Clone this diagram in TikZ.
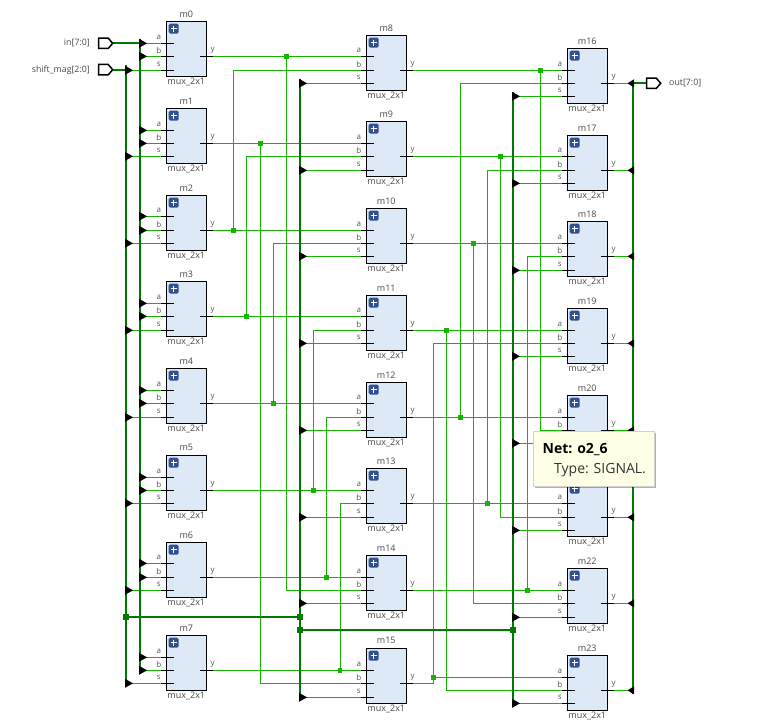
\documentclass[tikz,border=0pt]{standalone}
\usepackage{fontspec}
\setmainfont{Open Sans}
\usetikzlibrary{shadows}
\definecolor{wireg}{HTML}{14B400}
\definecolor{busg}{HTML}{007A00}
\definecolor{boxb}{HTML}{DEE9F7}
\definecolor{plusb}{HTML}{30508F}
\definecolor{pintext}{HTML}{555555}
\definecolor{tipy}{HTML}{FFFFE6}
\tikzset{
  x=1pt,y=-1pt,
  muxbox/.style={draw=black,line width=1pt,fill=boxb,minimum width=40pt,minimum height=55pt,inner sep=0pt,outer sep=0pt},
  plusicon/.style={fill=plusb,rounded corners=1.5pt,minimum size=10pt,inner sep=0pt},
  wire/.style={draw=wireg,line width=0.9pt},
  bus/.style={draw=busg,line width=2pt},
  pinline/.style={draw=black,line width=0.9pt},
  pinlab/.style={font=\fontsize{8}{9}\selectfont,text=pintext,inner sep=0pt},
  muxlab/.style={font=\fontsize{9}{10}\selectfont,text=pintext!85!black,inner sep=0pt},
  portlab/.style={font=\fontsize{8.8}{10}\selectfont,text=pintext!85!black,inner sep=0pt},
  wirejoint/.style={fill=wireg,minimum size=4.5pt,inner sep=0pt,outer sep=0pt},
  busjoint/.style={fill=busg,minimum size=6pt,inner sep=0pt,outer sep=0pt},
  portshape/.pic={\draw[black,line width=1.5pt,fill=white,line join=miter] (0,-5.2)--(9.5,-5.2)--(14,0)--(9.5,5.2)--(0,5.2)--cycle;},
  busarrowR/.pic={\fill[black] (-1,-4.5)--(7,0)--(-1,4.5)--cycle;},
  busarrowL/.pic={\fill[black] (1,-4)--(-5.5,0)--(1,4)--cycle;},
}
\begin{document}
\begin{tikzpicture}
\useasboundingbox (0,0) rectangle (770,727);
% mux bodies with pins
\foreach \n/\x/\t/\a/\b/\s/\y in {
 m0/166.3/21.3/43.3/56.3/70.3/56.3, m1/166.3/108.3/130.3/143.3/156.3/143.3,
 m2/166.3/195.3/216.3/230.3/243.3/230.3, m3/166.3/281.3/303.3/316.3/330.3/316.3,
 m4/166.3/368.3/390.3/403.3/417.3/403.3, m5/166.3/455.3/477.3/490.3/503.3/490.3,
 m6/166.3/542.3/563.3/577.3/590.3/577.3, m7/166.3/635.3/657.3/670.3/683.3/670.3,
 m8/366.3/35.3/56.3/70.3/83.3/70.3, m9/366.3/121.3/143.3/156.3/170.3/156.3,
 m10/366.3/208.3/230.3/243.3/256.3/243.3, m11/366.3/295.3/316.3/330.3/343.3/330.3,
 m12/366.3/382.3/403.3/417.3/430.3/417.3, m13/366.3/468.3/490.3/503.3/517.3/503.3,
 m14/366.3/555.3/577.3/590.3/603.3/590.3, m15/366.3/648.3/670.3/683.3/697.3/683.3,
 m16/567.3/48.3/70.3/83.3/96.3/83.3, m17/567.3/135.3/156.3/170.3/183.3/170.3,
 m18/567.3/221.3/243.3/256.3/270.3/256.3, m19/567.3/308.3/330.3/343.3/356.3/343.3,
 m20/567.3/395.3/417.3/430.3/443.3/430.3, m21/567.3/481.3/503.3/517.3/530.3/517.3,
 m22/567.3/568.3/590.3/603.3/617.3/603.3, m23/567.3/655.3/677.3/690.3/703.3/690.3}{
  \node[muxbox] (\n) at (\x+20,\t+27.5) {};
  \node[plusicon] (\n-icon) at (\x+7.4,\t+7.4) {};
  \draw[white,line width=1.1pt] (\x+4.4,\t+7.4)--(\x+10.4,\t+7.4) (\x+7.4,\t+4.4)--(\x+7.4,\t+10.4);
  \coordinate (\n-a) at (\x-5.3,\a);
  \coordinate (\n-b) at (\x-5.3,\b);
  \coordinate (\n-s) at (\x-5.3,\s);
  \coordinate (\n-y) at (\x+46.7,\y);
  \draw[pinline] (\n-a) -- ++(13,0);
  \draw[pinline] (\n-b) -- ++(13,0);
  \draw[pinline] (\n-s) -- ++(13,0);
  \draw[pinline] (\n-y) -- ++(-13,0);
  \node[pinlab] (\n-al) at (\x-7.5,\a-5.5) {a};
  \node[pinlab] (\n-bl) at (\x-7.5,\b-5.5) {b};
  \node[pinlab] (\n-sl) at (\x-7.5,\s-5.5) {s};
  \node[pinlab] (\n-yl) at (\x+46.3,\y-5.5) {y};
}
% names above the bodies (m21's is hidden by the tooltip)
\foreach \n in {m0,m1,m2,m3,m4,m5,m6,m7,m8,m9,m10,m11,m12,m13,m14,m15,m16,m17,m18,m19,m20,m22,m23}{
  \node[muxlab] (\n-title) at ([yshift=7.5pt]\n.north) {\n};
}
% type names below the bodies (m20's is hidden by the tooltip)
\foreach \n in {m0,m1,m2,m3,m4,m5,m6,m7,m8,m9,m10,m11,m12,m13,m14,m15,m16,m17,m18,m19,m21,m22,m23}{
  \node[muxlab] (\n-type) at ([yshift=-6pt]\n.south) {mux\_2x1};
}
% ports and bus anchors
\coordinate (inp) at (112.7,43.3);
\coordinate (shp) at (112.7,69.7);
\coordinate (outp) at (646.7,83.3);
\coordinate (inbus) at (140,43.3);
\coordinate (shbus) at (126,69.7);
\coordinate (s2bus) at (300,617);
\coordinate (s3bus) at (513,630);
\coordinate (outbus) at (633,83.3);
\coordinate (inbusend) at (140,674);
\coordinate (inbustop) at (140,39);
\coordinate (shbustop) at (126,65.5);
\coordinate (shbusend) at (126,687);
\coordinate (s2bustop) at (300,79);
\coordinate (s2busend) at (300,701);
\coordinate (s3bustop) at (513,92);
\coordinate (s3busend) at (513,707);
\coordinate (outbusend) at (633,694);
% select and data wires from the buses
\foreach \n in {m0,m1,m2,m3,m4,m5,m6,m7}{
  \draw[wire] (inbus |- \n-a) -- (\n-a);
  \draw[wire] (inbus |- \n-b) -- (\n-b);
  \draw[wire] (shbus |- \n-s) -- (\n-s);
}
\foreach \n in {m8,m9,m10,m11,m12,m13,m14,m15}{\draw[wire] (s2bus |- \n-s) -- (\n-s);}
\foreach \n in {m16,m17,m18,m19,m20,m21,m22,m23}{
  \draw[wire] (s3bus |- \n-s) -- (\n-s);
  \draw[wire] (\n-y) -- (outbus |- \n-y);
}
% first stage outputs
\foreach \src/\dst/\jx/\jy/\tgt in {
 m0/m8-a/286.3/56.3/m14-b, m1/m9-a/260.3/143.3/m15-b, m2/m10-a/233.3/230.3/m8-b,
 m3/m11-a/246.3/316.3/m9-b, m4/m12-a/273.3/403.3/m10-b, m5/m13-a/313.3/490.3/m11-b,
 m6/m14-a/326.6/577.3/m12-b, m7/m15-a/340/670.3/m13-b,
 m8/m16-a/540.3/70.3/m20-b, m9/m17-a/500.3/156.3/m21-b, m10/m18-a/473.3/243.3/m22-b,
 m11/m19-a/446.3/330.3/m23-b, m12/m20-a/460.3/417.3/m16-b, m13/m21-a/487.3/503.3/m17-b,
 m14/m22-a/527.3/590.3/m18-b}{
  \draw[wire] (\src-y) -- (\dst);
  \node[wirejoint] (\src-joint) at (\jx,\jy) {};
  \draw[wire] (\src-joint.center) |- (\tgt);
}
% m15 output
\node[wirejoint] (m15-joint) at (433.3,677.3) {};
\draw[wire] (m15-y) -| (m15-joint.center);
\draw[wire] (m15-joint.center) -- (m23-a);
\draw[wire] (m15-joint.center) |- (m19-b);
% buses
\draw[bus] (inp) -- (inbus);
\draw[bus] (shp) -- (shbus);
\draw[bus] (inbustop) -- (inbusend);
\draw[bus] (shbustop) -- (shbusend);
\draw[bus] (s2bustop) -- (s2busend);
\draw[bus] (s3bustop) -- (s3busend);
\draw[bus] (outbus) -- (outbusend);
\draw[bus] (outbus) -- (outp);
\node[busjoint] (jb1) at (126,617) {};
\node[busjoint] (jb2) at (300,617) {};
\node[busjoint] (jb3) at (300,630) {};
\node[busjoint] (jb4) at (513,630) {};
\draw[bus] (jb1) -- (jb2);
\draw[bus] (jb3) -- (jb4);
% arrowheads on the buses
\foreach \n in {m0,m1,m2,m3,m4,m5,m6,m7}{
  \pic at (inbus |- \n-a) {busarrowR};
  \pic at (inbus |- \n-b) {busarrowR};
  \pic at (shbus |- \n-s) {busarrowR};
}
\foreach \n in {m8,m9,m10,m11,m12,m13,m14,m15}{\pic at (s2bus |- \n-s) {busarrowR};}
\foreach \n in {m16,m17,m18,m19,m20,m21,m22,m23}{
  \pic at (s3bus |- \n-s) {busarrowR};
  \pic at (outbus |- \n-y) {busarrowL};
}
% ports
\pic at (98.7,43.3) {portshape};
\pic at (98.7,69.7) {portshape};
\pic at (646.7,83.3) {portshape};
\node[portlab,anchor=east] (inlab) at (90,43) {in[7:0]};
\node[portlab,anchor=east] (shlab) at (90,69.7) {shift\_mag[2:0]};
\node[portlab,anchor=west] (outlab) at (669,83) {out[7:0]};
% tooltip
\node[draw=black!18,line width=0.8pt,fill=tipy,minimum width=121pt,minimum height=55pt,inner sep=0pt,
  drop shadow={shadow xshift=1.2pt,shadow yshift=-1.2pt,opacity=0.3,fill=black}] (tip) at (593.8,459.2) {};
\node[anchor=west,inner sep=0pt,font=\bfseries\fontsize{14}{16}\selectfont] (tipnet) at (542.5,450) {Net: o2\_6};
\node[anchor=west,inner sep=0pt,font=\fontsize{14}{16}\selectfont,text=black!80] (tiptype) at (554,470.5) {Type: SIGNAL.};
\end{tikzpicture}
\end{document}
